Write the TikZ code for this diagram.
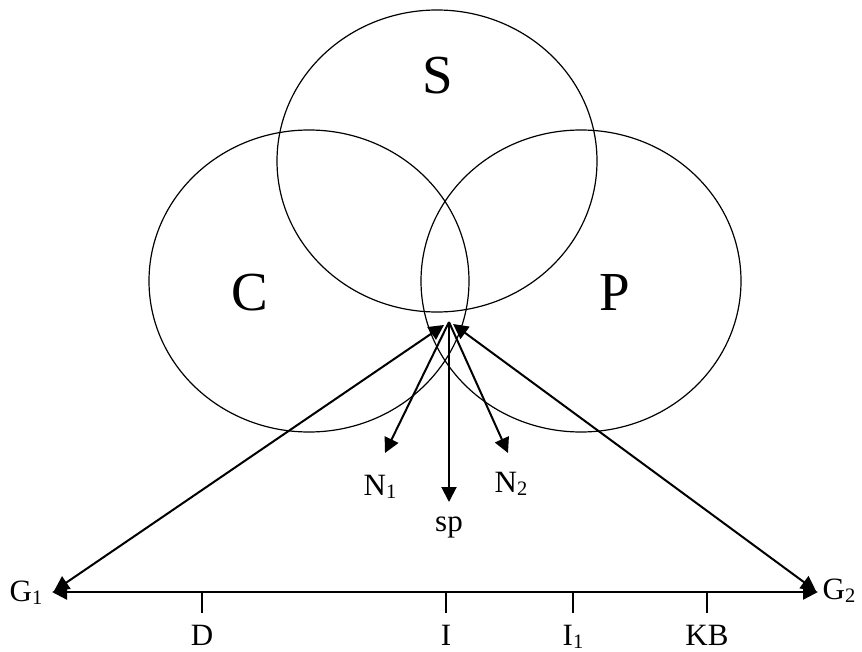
\documentclass[tikz,border=0pt]{standalone}
\usepackage{fontspec}
\setmainfont{Liberation Serif}
\usetikzlibrary{arrows.meta,shapes.geometric}
\newcommand{\subx}[1]{\raisebox{-3.5pt}{\fontsize{20.5}{20.5}\selectfont #1}}
\begin{document}
\begin{tikzpicture}[x=1pt,y=-1pt,
 ring/.style={draw,ellipse,minimum width=320pt,minimum height=302pt,inner sep=0pt,line width=1.2pt},
 big/.style={font=\fontsize{55}{55}\selectfont,inner sep=0pt,anchor=base},
 lbl/.style={font=\fontsize{31}{31}\selectfont,inner sep=0pt,anchor=base},
 tip/.style={Triangle[length=15pt,width=15pt]},
 arr/.style={line width=2pt,-{Triangle[length=15pt,width=15pt]}},
 darr/.style={line width=2pt,{Triangle[length=15pt,width=15pt]}-{Triangle[length=15pt,width=15pt]}},
 axis/.style={line width=2.4pt,{Triangle[length=15pt,width=15pt]}-{Triangle[length=15pt,width=15pt]}},
 tickmark/.style={line width=1.3pt}]
\useasboundingbox (0,0) rectangle (862,652);
% circles
\node[ring] (Sc) at (437,161) {};
\node[ring] (Cc) at (309,281) {};
\node[ring] (Pc) at (581,281) {};
% big letters
\node[big] (S) at (438,94) {S};
\node[big] (C) at (250,311) {C};
\node[big] (P) at (615,310) {P};
% key points
\coordinate (apex) at (449,322);
\coordinate (apexL) at (444,325);
\coordinate (apexR) at (453,324);
\coordinate (g1) at (52,592);
\coordinate (g2) at (818,592);
\coordinate (g1d) at (54,591);
\coordinate (g2d) at (816,591);
\coordinate (n1) at (385,453);
\coordinate (n2) at (508,453);
\coordinate (spt) at (449,502);
% arrows
\draw[arr] (apex) -- (n1);
\draw[arr] (apex) -- (n2);
\draw[arr] (apex) -- (spt);
\draw[darr] (apexL) -- (g1d);
\draw[darr] (apexR) -- (g2d);
\draw[axis] (g1) -- (g2);
% ticks
\coordinate (tD) at (202,592);
\coordinate (tI) at (446,592);
\coordinate (tI1) at (573,592);
\coordinate (tKB) at (707,591);
\draw[tickmark] (tD) -- ++(0,21);
\draw[tickmark] (tI) -- ++(0,21);
\draw[tickmark] (tI1) -- ++(0,21);
\draw[tickmark] (tKB) -- ++(0,22);
% labels
\node[lbl] (G1) at (26,601) {G\subx{1}};
\node[lbl] (G2) at (839,599) {G\subx{2}};
\node[lbl] (N1) at (380,495) {N\subx{1}};
\node[lbl] (N2) at (511,492) {N\subx{2}};
\node[lbl] (sp) at (449,531) {sp};
\node[lbl] (D) at (202,645) {D};
\node[lbl] (I) at (446,645) {I};
\node[lbl] (I1) at (573,645) {I\subx{1}};
\node[lbl] (KB) at (707,645) {KB};
\end{tikzpicture}
\end{document}
